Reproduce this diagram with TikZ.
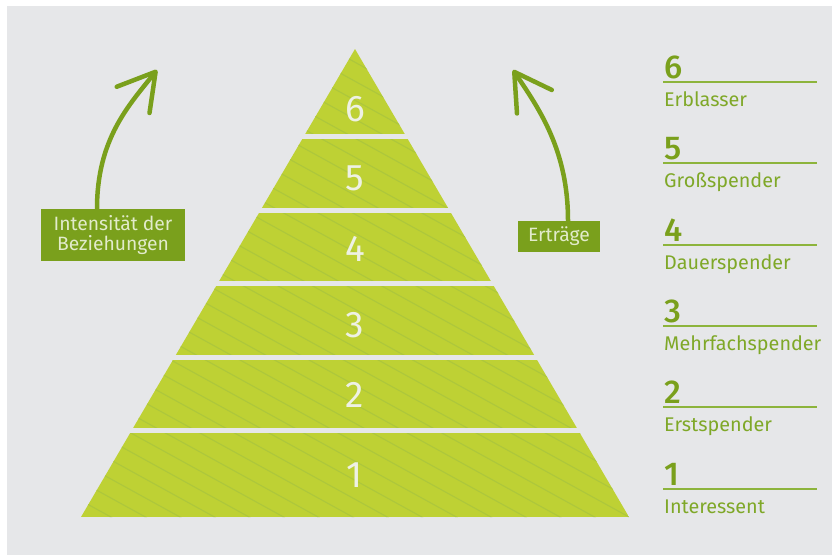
\documentclass[tikz,border=0pt]{standalone}
\usepackage{fontspec}
\setmainfont{Fira Sans}
\newfontfamily\gras{Fira Sans Medium}
\usetikzlibrary{arrows.meta}
\definecolor{fond}{HTML}{E6E7E9}
\definecolor{pyra}{HTML}{BED134}
\definecolor{hachure}{HTML}{ADC73C}
\definecolor{vert}{HTML}{7AA01C}
\definecolor{vertclair}{HTML}{7FA828}
\definecolor{trait}{HTML}{8DB43C}
\definecolor{blanc}{HTML}{EEF1E4}
\definecolor{textebox}{HTML}{E2EBCB}
\tikzset{
  boite/.style={fill=vert, text=textebox, inner sep=0pt, align=center, font=\fontsize{19.3}{20}\selectfont},
  fleche/.style={draw=vert, line width=4.5pt, -{Straight Barb[length=36pt,width=42pt,round]}},
  chiffre/.style={text=blanc, font=\fontsize{37}{40}\selectfont},
  numero/.style={text=vert, anchor=base west, inner sep=0pt, font=\gras\fontsize{33}{36}\selectfont},
  libelle/.style={text=vertclair, anchor=base west, inner sep=0pt, font=\fontsize{19.8}{22}\selectfont}
}
\begin{document}
\begin{tikzpicture}[x=1pt,y=-1pt]
  \pgfmathsetmacro{\sommetx}{355}
  \pgfmathsetmacro{\sommety}{49}
  \pgfmathsetmacro{\basey}{517}
  \pgfmathsetmacro{\gauche}{81}
  \pgfmathsetmacro{\droite}{629}
  \pgfmathsetmacro{\ecart}{73.5}
  \pgfmathsetmacro{\pas}{81.4}
  \useasboundingbox (0,0) rectangle (832,555);
  \fill[fond] (7,6) rectangle (832,555);
  \begin{scope}
    \clip (\gauche,\basey) -- (\sommetx,\sommety) -- (\droite,\basey) -- cycle;
    \fill[pyra] (\gauche,\sommety) rectangle (\droite,\basey);
    \foreach \k in {-17,...,26} \draw[hachure, line width=1.1pt] (0,\k*19) -- ++(832,457.6);
  \end{scope}
  \foreach \k in {0,...,4} \fill[fond] (\gauche,136.5+\k*\ecart-2.5) rectangle (\droite,136.5+\k*\ecart+2.5);
  \foreach \i/\y in {6/109,5/178,4/249,3/325,2/395,1/475} \node[chiffre] (p\i) at (\sommetx,\y) {\i};
  \foreach \i/\nom in {6/Erblasser,5/Großspender,4/Dauerspender,3/Mehrfachspender,2/Erstspender,1/Interessent} {
    \pgfmathsetmacro{\ligne}{81.8+(6-\i)*\pas}
    \draw[trait, line width=2pt] (663,\ligne) -- (817,\ligne);
    \node[numero] (n\i) at (664,\ligne-3.5) {\i};
    \node[libelle] (l\i) at (664,\ligne+24.5) {\nom};
  }
  \node[boite, minimum width=144pt, minimum height=52pt] (intensite) at (113,235) {Intensität der\\Beziehungen};
  \node[boite, minimum width=82pt, minimum height=31pt] (ertrag) at (559,236.5) {Erträge};
  \coordinate (pointegauche) at (157,70);
  \coordinate (pointedroite) at (513,70);
  \draw[fleche] ([xshift=-16pt]intensite.north) .. controls +(0,-70) and +(-28,35) .. (pointegauche);
  \draw[fleche] ([xshift=9pt]ertrag.north) .. controls +(0,-70) and +(27,40) .. (pointedroite);
\end{tikzpicture}
\end{document}
